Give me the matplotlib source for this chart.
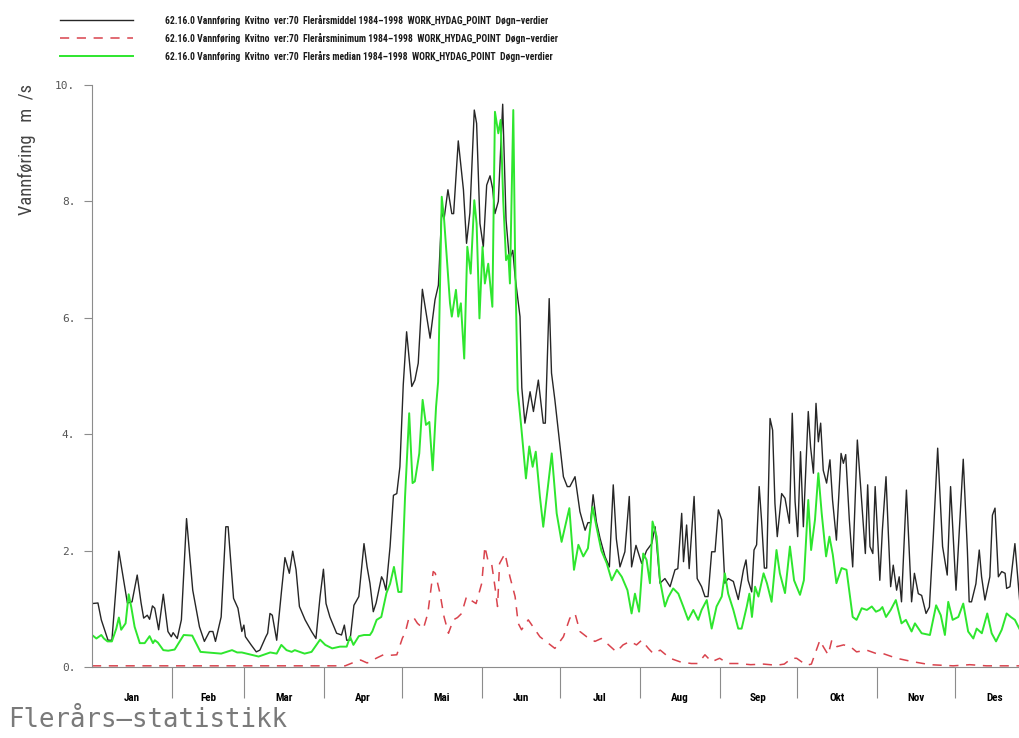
import matplotlib
matplotlib.use("Agg")
import matplotlib.pyplot as plt
from matplotlib import font_manager
from matplotlib.lines import Line2D

import numpy as np

# day of year (0 = 1 Jan) and discharge in m3/s, read per series
mean_days = [0, 2.3, 3.6, 6.2, 7.7, 10.4, 13.7, 15.5, 17.5, 19, 20, 21.4, 22.3, 23.4, 24.3,
             25.8, 27.6, 29.4, 30.7, 31.4, 33, 34.6, 36.6, 39, 41.6, 43.5, 45.5, 46.8, 47.8,
             50, 51.8, 52.7, 54.8, 56.5, 58, 58.8, 59.4, 61.6, 63.6, 65, 67.3, 68, 68.9, 69.8,
             71.5, 73.4, 74.7, 76.4, 77.7, 79, 80.3, 82.5, 85, 86.7, 88.3, 89.6, 90.6, 92.1,
             94.7, 96.6, 97.7, 98.6, 99.9, 101.4, 103.3, 105.3, 106.5, 107.6, 108.9, 110,
             112.1, 112.8, 113.8, 115.4, 116.7, 118, 119.2, 120.5, 121.8, 123.8, 125, 126.3,
             127.9, 129.6, 130.9, 132.8, 134.1, 135.4, 136.3, 137.8, 139.3, 140, 141.8, 143.8,
             145, 146.3, 148, 148.9, 150.2, 151.5, 152.8, 154.1, 155.1, 156, 157.3, 159, 160.3,
             161.6, 162.9, 163.8, 165.7, 166.4, 167.6, 169.6, 170.9, 172.8, 174.7, 175.5, 177,
             177.9, 179.2, 181.8, 182.5, 184, 185, 187, 188.9, 190.9, 192, 193, 194, 195.3,
             196.7, 198.6, 200.3, 201.8, 203, 204.4, 206.3, 208, 208.9, 210.6, 212.8, 214.7,
             216.7, 218, 219.9, 221.8, 223.8, 225.7, 226.8, 228.3, 229, 230.2, 231.2, 233.1,
             234.3, 236, 237.3, 238.5, 239.9, 241.2, 242.5, 243.8, 245, 246.3, 248.3, 250.2,
             252.2, 253.2, 254, 255.4, 256.3, 257.3, 258.3, 259.2, 260.3, 261.2, 262.5, 263.5,
             264.4, 265.3, 267, 268.3, 270, 271.1, 272.2, 273.2, 274.3, 275.4, 277.3, 278.2,
             279.3, 280.3, 281.2, 282.1, 283.1, 284.4, 285.7, 286.7, 288.2, 290, 290.9, 291.8,
             293.2, 294.5, 296.3, 298, 299.4, 300.3, 301.2, 302.3, 303.2, 305, 306, 307.4,
             308.3, 309.2, 310.2, 311.5, 312.5, 313.4, 315.3, 317.3, 318.4, 319.9, 321.2, 322.9,
             324.2, 325.7, 327.4, 329.3, 331.1, 332.4, 334.5, 336, 337.3, 338.9, 339.6, 340.5,
             342.2, 343.5, 344.4, 345.7, 347.6, 348.6, 349.6, 350.9, 352.2, 353.5, 354.1, 355.4,
             357.3, 359.3]
mean_flow = [1.09, 1.10, 0.81, 0.46, 0.46, 1.99, 1.10, 1.12, 1.58, 1.10, 0.84, 0.89, 0.82, 1.05,
             1.01, 0.64, 1.25, 0.61, 0.52, 0.59, 0.49, 0.81, 2.55, 1.32, 0.69, 0.44, 0.61, 0.61,
             0.44, 0.86, 2.41, 2.41, 1.18, 1.01, 0.61, 0.72, 0.52, 0.38, 0.26, 0.29, 0.52, 0.58,
             0.92, 0.89, 0.46, 1.32, 1.88, 1.61, 1.99, 1.67, 1.04, 0.81, 0.61, 0.49, 1.21, 1.68,
             1.09, 0.86, 0.58, 0.55, 0.72, 0.46, 0.46, 1.06, 1.21, 2.12, 1.72, 1.44, 0.95, 1.10,
             1.55, 1.49, 1.32, 2.07, 2.95, 2.98, 3.44, 4.85, 5.76, 4.82, 4.93, 5.22, 6.49, 6.02,
             5.65, 6.31, 6.56, 7.82, 7.70, 8.20, 7.79, 7.79, 9.04, 8.20, 7.28, 7.80, 9.57, 9.34,
             7.62, 7.22, 8.28, 8.44, 8.22, 7.79, 8.00, 9.67, 7.68, 6.99, 7.16, 6.71, 6.02, 4.80,
             4.19, 4.73, 4.39, 4.93, 4.19, 4.19, 6.33, 5.05, 4.59, 3.56, 3.27, 3.10, 3.10, 3.27,
             2.67, 2.35, 2.48, 2.48, 2.96, 2.49, 2.21, 1.90, 1.72, 3.13, 2.20, 1.72, 1.98, 2.93,
             1.72, 2.09, 1.78, 2.00, 2.12, 2.41, 1.44, 1.52, 1.38, 1.67, 1.69, 2.64, 1.81, 2.44,
             1.69, 2.93, 1.52, 1.38, 1.21, 1.21, 1.98, 1.98, 2.70, 2.53, 1.44, 1.52, 1.47, 1.16,
             1.67, 1.84, 1.49, 1.29, 2.01, 2.10, 3.10, 2.53, 1.70, 1.70, 4.27, 4.07, 2.81, 2.24,
             2.98, 2.90, 2.47, 4.36, 2.84, 2.24, 3.70, 2.41, 4.39, 3.78, 3.33, 4.53, 3.87, 4.19,
             3.38, 3.16, 3.56, 2.87, 2.18, 3.67, 3.50, 3.65, 2.53, 1.72, 3.90, 2.84, 1.95, 3.13,
             2.07, 1.95, 3.10, 1.49, 2.36, 3.27, 2.30, 1.38, 1.75, 1.32, 1.55, 1.12, 3.04, 1.12,
             1.61, 1.26, 1.23, 0.92, 1.03, 2.24, 3.76, 2.07, 1.58, 3.10, 1.32, 2.53, 3.57, 2.01,
             1.12, 1.12, 1.43, 2.01, 1.55, 1.15, 1.55, 2.61, 2.73, 1.55, 1.64, 1.61, 1.35, 1.38,
             2.12, 1.06]

min_days = [0, 30, 60, 98, 100.8, 104, 106.5, 107.6, 110, 112.8, 115, 118, 120.2, 121.2, 122.5,
            124.4, 126, 128.3, 130, 132.1, 132.9, 134.7, 136.3, 138, 139.9, 141.5, 143.1, 145,
            146.6, 148.7, 150.9, 152.1, 153.4, 154.7, 156, 157, 157.8, 159.9, 161.8, 163.8, 165,
            166.3, 168.9, 173.4, 179.2, 182.5, 185, 187, 188.9, 191.5, 194.7, 197.2, 200, 203,
            205.6, 208.3, 210.8, 212.8, 215.4, 217.3, 220, 223.8, 227.6, 232, 234.6, 237.3,
            239.9, 243, 246.2, 250, 255, 260, 265, 268, 270.9, 272.8, 276.6, 278.5, 281.8, 283.1,
            285, 286.4, 288.4, 291, 293.6, 296, 299.9, 303.7, 306.3, 311.5, 317.9, 324.4, 333.4,
            339.8, 346.3, 359.3]
min_flow = [0.02, 0.02, 0.02, 0.02, 0.07, 0.12, 0.07, 0.09, 0.15, 0.21, 0.20, 0.21, 0.50, 0.58,
            0.81, 0.86, 0.75, 0.66, 0.92, 1.64, 1.61, 1.27, 0.86, 0.58, 0.81, 0.85, 0.92, 1.21,
            1.15, 1.09, 1.44, 2.07, 1.81, 1.78, 1.38, 1.04, 1.78, 1.95, 1.55, 1.21, 0.75, 0.64,
            0.81, 0.52, 0.32, 0.52, 0.84, 0.92, 0.61, 0.52, 0.44, 0.49, 0.38, 0.26, 0.38, 0.44,
            0.38, 0.46, 0.32, 0.23, 0.29, 0.15, 0.09, 0.06, 0.06, 0.21, 0.09, 0.15, 0.06, 0.06,
            0.04, 0.05, 0.03, 0.05, 0.15, 0.15, 0.03, 0.05, 0.46, 0.35, 0.21, 0.46, 0.35, 0.38,
            0.35, 0.26, 0.29, 0.23, 0.23, 0.15, 0.09, 0.04, 0.02, 0.04, 0.02, 0.02]

median_days = [0, 1.7, 3.6, 4.6, 6, 7.7, 9.4, 10.4, 11.3, 13, 14.2, 15.2, 16.5, 18.5, 20.4, 22.3,
               23.6, 24.3, 25.5, 27.6, 29.5, 32, 35.5, 38.8, 42, 50, 54.2, 56.2, 58, 64.5, 69,
               71.5, 73.3, 75.3, 77.3, 78.5, 82.3, 85, 88.3, 90.3, 93, 96, 98.6, 99.9, 101.2,
               103.3, 105.3, 107.6, 108.5, 110.2, 112, 114, 115.4, 116.9, 118.6, 119.8, 121.2,
               122.8, 124.1, 125, 126.7, 128, 129.3, 130.6, 131.9, 133.2, 134, 135.4, 136.3,
               138.6, 139.3, 140.9, 141.8, 142.8, 144.1, 145.3, 146.6, 148, 148.9, 150, 151.2,
               152.1, 153.4, 155, 156, 157.3, 158.2, 159.2, 160.3, 161.2, 161.8, 163.1, 163.8,
               164.8, 166.3, 168, 169.3, 170.6, 171.8, 173.4, 174.7, 178, 179.9, 181.8, 184.8,
               186.6, 188.3, 190.2, 192, 193.8, 195.3, 197.2, 199.3, 201.2, 203.2, 205.1, 207.3,
               208.9, 210.2, 211.8, 213.4, 214.7, 216, 217, 218.6, 219.9, 221.8, 223.1, 225, 227,
               228.9, 230.8, 232.8, 234.7, 236, 238, 239.9, 241.8, 243.8, 245, 246.3, 248.3,
               250.2, 251.5, 253.5, 254.5, 255.5, 256.7, 258, 260, 261.3, 263.1, 265, 266.3,
               268.3, 270.2, 271.8, 274.1, 275.6, 277.3, 278.4, 279.9, 281.2, 282.5, 284.2,
               285.5, 286.8, 288.2, 290.2, 292.1, 294.5, 296, 298, 300, 301.9, 303.5, 305, 306,
               307.4, 309.2, 311.2, 313.4, 315.1, 317.3, 318.6, 321.2, 324.4, 326.8, 328.6, 330.2,
               331.5, 333.2, 335.4, 337.3, 339.2, 341.2, 342.5, 344.5, 346.6, 348.3, 350, 352.2,
               354.1, 355.7, 357.3, 359]
median_flow = [0.55, 0.49, 0.55, 0.49, 0.44, 0.44, 0.66, 0.85, 0.64, 0.75, 1.25, 1.03, 0.69, 0.41,
               0.41, 0.53, 0.41, 0.46, 0.42, 0.29, 0.28, 0.30, 0.55, 0.54, 0.26, 0.23, 0.29, 0.25,
               0.25, 0.18, 0.25, 0.23, 0.38, 0.29, 0.26, 0.29, 0.23, 0.26, 0.47, 0.38, 0.32, 0.35,
               0.35, 0.52, 0.38, 0.53, 0.55, 0.55, 0.61, 0.81, 0.86, 1.27, 1.43, 1.72, 1.29, 1.29,
               2.93, 4.36, 3.16, 3.19, 3.67, 4.59, 4.16, 4.21, 3.38, 4.47, 4.90, 8.08, 7.70, 6.25,
               6.02, 6.48, 6.02, 6.25, 5.30, 7.22, 6.76, 8.02, 7.62, 5.99, 7.22, 6.59, 6.93, 6.19,
               9.54, 9.17, 9.40, 8.02, 6.99, 7.08, 6.59, 9.57, 7.05, 4.76, 4.07, 3.24, 3.79, 3.44,
               3.70, 2.93, 2.41, 3.67, 2.64, 2.15, 2.73, 1.67, 2.10, 1.90, 2.04, 2.75, 2.41, 2.00,
               1.78, 1.49, 1.67, 1.55, 1.32, 0.92, 1.26, 0.95, 1.95, 1.84, 1.44, 2.50, 2.24, 1.49,
               1.04, 1.20, 1.35, 1.26, 1.04, 0.81, 0.98, 0.81, 0.98, 1.15, 0.66, 1.04, 1.21, 1.61,
               1.26, 0.98, 0.66, 0.66, 1.04, 1.26, 0.86, 1.38, 1.21, 1.61, 1.44, 1.12, 2.01, 1.61,
               1.27, 2.07, 1.49, 1.24, 1.49, 2.87, 2.01, 2.53, 3.33, 2.64, 1.90, 2.24, 1.93, 1.44,
               1.70, 1.67, 0.86, 0.81, 1.01, 0.98, 1.04, 0.95, 0.98, 1.03, 0.86, 0.98, 1.15, 0.75,
               0.81, 0.61, 0.75, 0.58, 0.55, 1.06, 0.89, 0.55, 1.12, 0.81, 0.86, 1.09, 0.61, 0.49,
               0.66, 0.58, 0.92, 0.58, 0.44, 0.64, 0.92, 0.86, 0.81, 0.66]

month_names = ["Jan", "Feb", "Mar", "Apr", "Mai", "Jun", "Jul", "Aug", "Sep", "Okt", "Nov", "Des"]
month_lengths = [31, 28, 31, 30, 31, 30, 31, 31, 30, 31, 30, 31]

legend_labels = [
    "62.16.0 Vannføring  Kvitno  ver:70  Flerårsmiddel 1984–1998  WORK_HYDAG_POINT  Døgn–verdier",
    "62.16.0 Vannføring  Kvitno  ver:70  Flerårsminimum 1984–1998  WORK_HYDAG_POINT  Døgn–verdier",
    "62.16.0 Vannføring  Kvitno  ver:70  Flerårs median 1984–1998  WORK_HYDAG_POINT  Døgn–verdier",
]

BLACK = "#262626"
RED = "#d9434d"
GREEN = "#2ee62e"
AXIS = "#8c8c8c"

# pick a narrow face if one is around, otherwise plain DejaVu Sans
entries = font_manager.fontManager.ttflist
names = set(f.name for f in entries)
NARROW = "DejaVu Sans"
STRETCH = "normal"
for cand in ["Liberation Sans Narrow", "Roboto Condensed", "Open Sans Condensed",
             "DejaVu Sans Condensed", "Noto Sans Condensed"]:
    if cand in names:
        NARROW = cand
        break
else:
    for f in entries:
        if f.name in ("DejaVu Sans", "Noto Sans", "Open Sans") and "condensed" in str(f.stretch):
            NARROW = f.name
            STRETCH = "condensed"
            break

fig = plt.figure(figsize=(10.2, 7.38), dpi=100)
# the year runs a little past the right edge of the sheet
ax = fig.add_axes([0.0902, 0.0962, 0.9243, 0.7886])

ax.plot(mean_days, mean_flow, color=BLACK, lw=1.0)
ax.plot(min_days, min_flow, color=RED, lw=1.1, dashes=(6, 5))
ax.plot(median_days, median_flow, color=GREEN, lw=1.4)

ax.set_xlim(0, 365)
ax.set_ylim(0, 10)

for side in ["top", "right"]:
    ax.spines[side].set_visible(False)
for side in ["left", "bottom"]:
    ax.spines[side].set_color(AXIS)
    ax.spines[side].set_linewidth(0.8)

yt = np.arange(0, 11, 2)
ax.set_yticks(yt)
ax.set_yticklabels(["%d." % v for v in yt], family="DejaVu Sans Mono", fontsize=8,
                   color="#555555")
ax.tick_params(axis="y", direction="out", length=6, width=0.8, color=AXIS, pad=6)

# month separators as long major ticks, names centred on minor ticks
starts = np.cumsum([0] + month_lengths)
ax.set_xticks(starts[1:-1])
ax.set_xticklabels([])
ax.tick_params(axis="x", which="major", direction="out", length=22, width=0.8, color=AXIS)
centers = (starts[:-1] + starts[1:]) / 2.0
ax.set_xticks(centers, minor=True)
ax.set_xticklabels(month_names, minor=True, family=NARROW, fontstretch=STRETCH,
                   fontsize=8, fontweight="bold")
ax.tick_params(axis="x", which="minor", length=0, pad=19)

ylab = fig.text(0.026, 0.797, "Vannføring   m  /s", rotation=90, ha="center", va="center",
                family=NARROW, fontstretch=STRETCH, fontsize=13, color="#444444")

fig.text(0.008, 0.0149, "Flerårs—statistikk", family="DejaVu Sans Mono", fontsize=18.5,
         color="#7a7a7a", ha="left", va="baseline")

# legend block above the plot
styles = [dict(color=BLACK, lw=1.0),
          dict(color=RED, lw=1.1, dashes=(6, 5)),
          dict(color=GREEN, lw=1.4)]
legend_texts = []
for i, (label, st) in enumerate(zip(legend_labels, styles)):
    yy = 1 - (20 + 18 * i) / 738.0
    fig.add_artist(Line2D([0.059, 0.130], [yy, yy], transform=fig.transFigure, **st))
    legend_texts.append(fig.text(0.162, yy, label, family=NARROW, fontstretch=STRETCH,
                                 fontsize=7.2, fontweight="bold", ha="left", va="center",
                                 color="#1a1a1a"))

# squeeze the legend lines and axis title to their printed extents
renderer = fig.canvas.get_renderer()
w = legend_texts[0].get_window_extent(renderer).width
for t in legend_texts:
    t.set_fontsize(t.get_fontsize() * 383.0 / w)
h = ylab.get_window_extent(renderer).height
ylab.set_fontsize(ylab.get_fontsize() * 130.0 / h)

fig.savefig("out.png", dpi=100)
